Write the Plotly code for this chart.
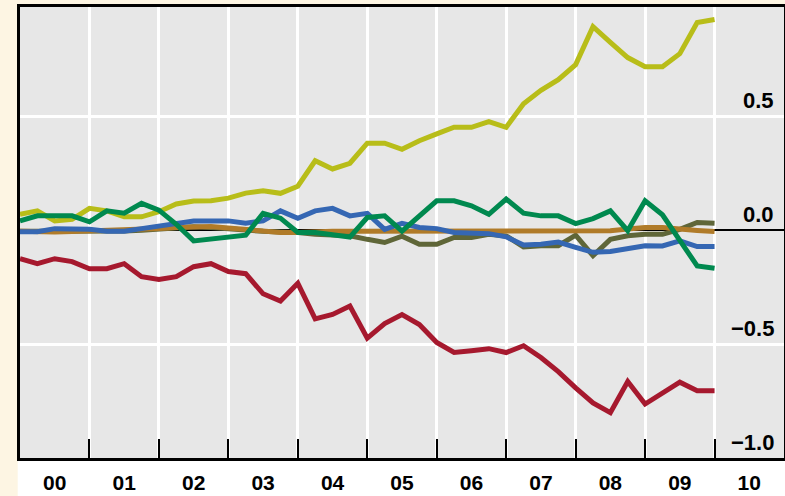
import plotly.graph_objects as go

# Quarterly observations, 2000Q1 .. 2010Q1
quarters = [2000 + q / 4 for q in range(41)]

yellow = [0.070, 0.085, 0.041, 0.048, 0.096, 0.085, 0.059, 0.059, 0.081, 0.115,
          0.128, 0.129, 0.141, 0.163, 0.173, 0.162, 0.193, 0.305, 0.269, 0.294,
          0.382, 0.382, 0.355, 0.393, 0.423, 0.452, 0.452, 0.477, 0.452, 0.555,
          0.614, 0.661, 0.727, 0.894, 0.825, 0.758, 0.718, 0.718, 0.775, 0.912,
          0.925]
green = [0.041, 0.063, 0.063, 0.063, 0.037, 0.085, 0.075, 0.118, 0.088, 0.026,
         -0.047, -0.040, -0.031, -0.022, 0.074, 0.053, -0.010, -0.010, -0.020, -0.030,
         0.056, 0.063, -0.004, 0.062, 0.129, 0.129, 0.107, 0.070, 0.137, 0.075,
         0.063, 0.063, 0.029, 0.051, 0.085, -0.002, 0.129, 0.068, -0.044, -0.157,
         -0.167]
blue = [-0.007, -0.007, 0.007, 0.007, 0.004, -0.004, -0.004, 0.007, 0.019, 0.031,
        0.040, 0.040, 0.041, 0.031, 0.041, 0.085, 0.052, 0.085, 0.096, 0.063,
        0.074, 0.004, 0.030, 0.012, 0.007, -0.010, -0.013, -0.015, -0.029, -0.065,
        -0.062, -0.052, -0.075, -0.097, -0.093, -0.079, -0.068, -0.069, -0.047, -0.072,
        -0.072]
brown = [-0.005, -0.008, -0.008, -0.006, -0.004, -0.002, 0.000, 0.004, 0.008, 0.012,
         0.016, 0.016, 0.010, 0.004, -0.004, -0.010, -0.010, -0.006, -0.005, -0.005,
         -0.005, -0.005, -0.005, -0.005, -0.005, -0.005, -0.005, -0.005, -0.005, -0.005,
         -0.005, -0.005, -0.005, -0.005, -0.002, 0.005, 0.012, 0.012, 0.008, -0.001,
         -0.006]
olive = [-0.005, -0.005, -0.006, -0.006, -0.005, -0.004, -0.003, 0.000, 0.006, 0.010,
         0.015, 0.012, 0.005, 0.000, -0.005, -0.008, -0.010, -0.018, -0.020, -0.024,
         -0.040, -0.054, -0.026, -0.062, -0.062, -0.032, -0.032, -0.018, -0.025, -0.073,
         -0.068, -0.068, -0.022, -0.112, -0.040, -0.024, -0.018, -0.018, 0.004, 0.034,
         0.031]
red = [-0.125, -0.147, -0.125, -0.138, -0.169, -0.169, -0.147, -0.204, -0.216, -0.204,
       -0.160, -0.147, -0.181, -0.191, -0.279, -0.311, -0.233, -0.389, -0.370, -0.333,
       -0.474, -0.410, -0.370, -0.414, -0.493, -0.537, -0.529, -0.520, -0.537, -0.507,
       -0.559, -0.621, -0.692, -0.758, -0.801, -0.664, -0.763, -0.714, -0.667, -0.705,
       -0.705]

year_labels = ["00", "01", "02", "03", "04", "05", "06", "07", "08", "09", "10"]
year_starts = list(range(2000, 2011))
y_ticks = [-1.0, -0.5, 0.0, 0.5]
y_labels = ["\u22121.0", "\u22120.5", "0.0", "0.5"]

series = [
    (olive, "#5f6638"),
    (brown, "#b07b29"),
    (blue, "#3567b3"),
    (yellow, "#b8bd19"),
    (red, "#a6192e"),
    (green, "#00894f"),
]

fig = go.Figure()
for vals, col in series:
    fig.add_trace(go.Scatter(x=quarters, y=vals, mode="lines",
                             line=dict(color=col, width=5), showlegend=False,
                             hoverinfo="skip"))

xfont = dict(family="Liberation Sans, Arial, sans-serif", size=21, color="black",
             weight="bold")
yfont = dict(family="Liberation Sans, Arial, sans-serif", size=22, color="black",
             weight="bold")

# value labels of the y axis, written inside the frame above each grid line
y_annotations = [
    dict(x=1, xref="paper", y=v, yref="y", text=t, showarrow=False,
         xanchor="right", yanchor="bottom", xshift=-8, yshift=1, font=yfont)
    for v, t in zip(y_ticks, y_labels)
]

fig.update_layout(
    width=785, height=496,
    margin=dict(l=20, r=1, t=7, b=38, autoexpand=False),
    paper_bgcolor="#fdf5e3",
    plot_bgcolor="#e7e7e7",
    showlegend=False,
    xaxis=dict(
        range=[2000, 2011],
        automargin=False,
        tickmode="array",
        tickvals=[y + 0.5 for y in year_starts],
        ticktext=year_labels,
        ticks="",
        showgrid=False,
        zeroline=False,
        showline=True, linecolor="black", linewidth=3, mirror=True,
        tickfont=xfont,
        ticklabelstandoff=4,
        minor=dict(tickmode="array", tickvals=year_starts[1:],
                   ticks="inside", ticklen=19, tickwidth=2, tickcolor="black",
                   showgrid=True, gridcolor="white", gridwidth=3),
    ),
    yaxis=dict(
        range=[-1.0, 0.98],
        automargin=False,
        side="right",
        tickmode="array",
        tickvals=y_ticks,
        showticklabels=False,
        ticks="",
        showgrid=True, gridcolor="white", gridwidth=3,
        zeroline=True, zerolinecolor="black", zerolinewidth=1.5,
        showline=True, linecolor="black", linewidth=3, mirror=True,
    ),
    annotations=y_annotations,
    shapes=[dict(type="rect", xref="paper", yref="paper",
                 x0=-0.003, x1=1.01, y0=-0.1, y1=0,
                 fillcolor="white", line=dict(width=0), layer="below")],
)

fig.write_html("out.html",
               config={"displayModeBar": False},
               post_script="document.body.style.margin='0';"
                           "document.body.style.overflow='hidden';")
